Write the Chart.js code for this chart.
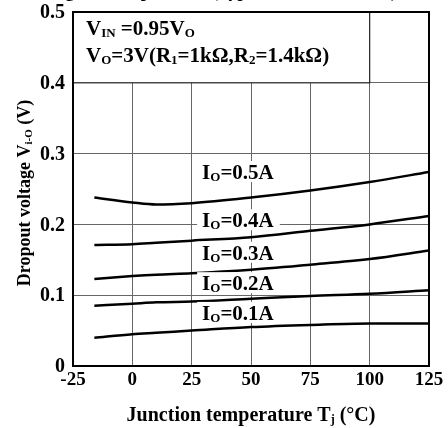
<!DOCTYPE html>
<html lang="en">
  <head>
    <meta charset="UTF-8" />
    <title>Dropout voltage vs junction temperature</title>
    <script src="https://cdn.jsdelivr.net/npm/chart.js@4"></script>
    <style>
      html, body { margin: 0; padding: 0; background: #fff; overflow: hidden; }
      canvas { display: block; }
    </style>
  </head>
  <body>
    <canvas id="myChart" width="448" height="428"></canvas>

    <script>
      // junction temperature (deg C)
      const temps = [-16, 0, 10, 25, 50, 75, 100, 125];
      // dropout voltage (V) per load current
      const io05 = [0.238, 0.231, 0.228, 0.230, 0.238, 0.248, 0.260, 0.274];
      const io04 = [0.171, 0.172, 0.174, 0.177, 0.182, 0.191, 0.200, 0.212];
      const io03 = [0.123, 0.127, 0.129, 0.131, 0.136, 0.143, 0.151, 0.163];
      const io02 = [0.085, 0.088, 0.090, 0.091, 0.095, 0.099, 0.102, 0.107];
      const io01 = [0.040, 0.045, 0.047, 0.050, 0.055, 0.058, 0.060, 0.060];

      const xTicks = [-25, 0, 25, 50, 75, 100, 125];
      const yTicks = [0, 0.1, 0.2, 0.3, 0.4, 0.5];
      const yTickLabels = ["0", "0.1", "0.2", "0.3", "0.4", "0.5"];

      // curve labels: [main, subscript, rest], anchored at (T, V)
      const curveLabels = [
        { t: 29.4, v: 0.274, parts: ["I", "O", "=0.5A"] },
        { t: 29.4, v: 0.206, parts: ["I", "O", "=0.4A"] },
        { t: 29.4, v: 0.160, parts: ["I", "O", "=0.3A"] },
        { t: 29.4, v: 0.117, parts: ["I", "O", "=0.2A"] },
        { t: 29.4, v: 0.075, parts: ["I", "O", "=0.1A"] },
      ];

      const FONT = "Liberation Serif";
      const series = [io05, io04, io03, io02, io01];

      // draws text made of alternating normal / subscript pieces
      function drawRich(ctx, x, y, parts, size) {
        let cx = x;
        parts.forEach((p, i) => {
          const sub = i % 2 === 1;
          ctx.font = "bold " + (sub ? Math.round(size * 0.62) : size) + "px " + FONT;
          ctx.fillText(p, cx, sub ? y + 2 : y);
          cx += ctx.measureText(p).width;
        });
        return cx - x;
      }
      function richWidth(ctx, parts, size) {
        let w = 0;
        parts.forEach((p, i) => {
          const sub = i % 2 === 1;
          ctx.font = "bold " + (sub ? Math.round(size * 0.62) : size) + "px " + FONT;
          w += ctx.measureText(p).width;
        });
        return w;
      }

      const decor = {
        id: "decor",
        afterDatasetsDraw(chart) {
          const ctx = chart.ctx;
          const a = chart.chartArea;
          const xs = chart.scales.x, ys = chart.scales.y;
          ctx.save();
          ctx.textAlign = "left";
          ctx.textBaseline = "alphabetic";

          // condition box in upper left
          const bx = xs.getPixelForValue(100), by = ys.getPixelForValue(0.4);
          ctx.fillStyle = "#fff";
          ctx.fillRect(a.left, a.top, bx - a.left, by - a.top);
          ctx.strokeStyle = "#222";
          ctx.lineWidth = 1.2;
          ctx.strokeRect(a.left, a.top, bx - a.left, by - a.top);
          ctx.fillStyle = "#000";
          drawRich(ctx, a.left + 13, a.top + 23, ["V", "IN", " =0.95V", "O"], 21);
          drawRich(ctx, a.left + 13, a.top + 50, ["V", "O", "=3V(R", "1", "=1k\u03A9,R", "2", "=1.4k\u03A9)"], 21);

          // curve labels with white backing
          curveLabels.forEach((l) => {
            const px = xs.getPixelForValue(l.t), py = ys.getPixelForValue(l.v);
            const w = richWidth(ctx, l.parts, 21);
            ctx.fillStyle = "#fff";
            ctx.fillRect(px - 5, py - 11, w + 11, 21);
            ctx.fillStyle = "#000";
            drawRich(ctx, px, py + 7, l.parts, 21);
          });

          // frame
          ctx.strokeStyle = "#000";
          ctx.lineWidth = 2;
          ctx.strokeRect(a.left, a.top, a.right - a.left, a.bottom - a.top);

          // y tick labels
          ctx.font = "bold 20px " + FONT;
          ctx.textAlign = "right";
          ctx.textBaseline = "middle";
          yTicks.forEach((v, i) => {
            ctx.fillText(yTickLabels[i], a.left - 8, ys.getPixelForValue(v) + 1);
          });

          // x title
          ctx.textAlign = "left";
          ctx.textBaseline = "alphabetic";
          const xt = ["Junction temperature T", "j", " (\u00B0C)"];
          const xw = richWidth(ctx, xt, 20);
          drawRich(ctx, 251 - xw / 2, 421, xt, 20);
          ctx.restore();

          // y title (rotated)
          ctx.save();
          ctx.textAlign = "left";
          ctx.textBaseline = "alphabetic";
          ctx.fillStyle = "#000";
          const yt = ["Dropout voltage V", "i-O", " (V)"];
          const yw = richWidth(ctx, yt, 18);
          ctx.translate(30, (a.top + a.bottom) / 2 + 4);
          ctx.rotate(-Math.PI / 2);
          drawRich(ctx, -yw / 2, 0, yt, 18);
          ctx.restore();

          // clipped chart title at the very top
          ctx.save();
          ctx.fillStyle = "#000";
          ctx.font = "bold 18px " + FONT;
          ctx.textAlign = "right";
          ctx.textBaseline = "alphabetic";
          ctx.fillText("Dropout voltage vs. temperature (Typical characteristics)", 397, -3);
          ctx.restore();
        },
      };

      const ctx = document.getElementById("myChart").getContext("2d");
      new Chart(ctx, {
        type: "line",
        data: {
          datasets: series.map((s) => ({
            data: temps.map((t, i) => ({ x: t, y: s[i] })),
            borderColor: "#000",
            borderWidth: 2.5,
            pointRadius: 0,
            fill: false,
            cubicInterpolationMode: "monotone",
          })),
        },
        options: {
          responsive: false,
          animation: false,
          layout: { padding: { top: 12, right: 19, left: 0, bottom: 0 } },
          plugins: { legend: { display: false }, tooltip: { enabled: false } },
          scales: {
            x: {
              type: "linear",
              min: -25,
              max: 125,
              afterBuildTicks: (s) => { s.ticks = xTicks.map((v) => ({ value: v })); },
              afterFit: (s) => { s.height = 62; },
              ticks: {
                color: "#000",
                padding: 3,
                font: { family: FONT, size: 19, weight: "bold" },
              },
              grid: { color: "#666", lineWidth: 1, drawTicks: false },
              border: { display: false },
            },
            y: {
              min: 0,
              max: 0.5,
              afterBuildTicks: (s) => { s.ticks = yTicks.map((v) => ({ value: v })); },
              afterFit: (s) => { s.width = 73; },
              ticks: { display: false },
              grid: { color: "#666", lineWidth: 1, drawTicks: false },
              border: { display: false },
            },
          },
        },
        plugins: [decor],
      });
    </script>
  </body>
</html>
